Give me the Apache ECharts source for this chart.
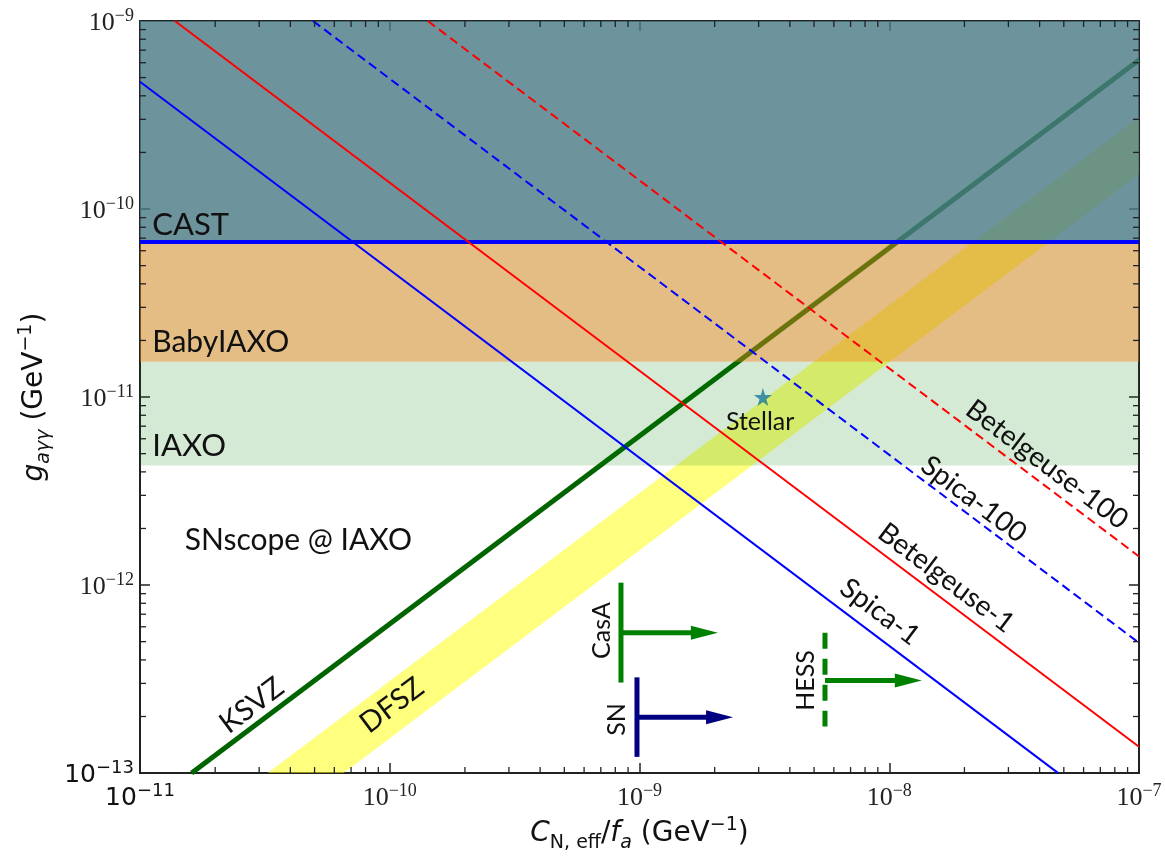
<!DOCTYPE html>
<html><head><meta charset="utf-8">
<script src="https://cdn.jsdelivr.net/npm/echarts@6/dist/echarts.min.js"></script>
<style>html,body{margin:0;padding:0;background:#fff}#c{width:1165px;height:858px}</style>
</head><body><div id="c"></div>
<script>
// ---------- axis ranges & ticks ----------
const X_MIN = 1e-11, X_MAX = 1e-7, Y_MIN = 1e-13, Y_MAX = 1e-9;
const xDecades = [-11, -10, -9, -8];
const yDecades = [-13, -12, -11, -10];
const minorMultipliers = [2, 3, 4, 5, 6, 7, 8, 9];

// ---------- sensitivity / model lines  [x, g] ----------
const spica1   = [[1e-11, 4.75e-10], [4.75e-8, 1e-13]];
const spica100 = [[4.93e-11, 1e-9], [1e-7, 4.93e-13]];
const betel1   = [[1.38e-11, 1e-9], [1e-7, 1.38e-13]];
const betel100 = [[1.42e-10, 1e-9], [1e-7, 1.42e-12]];
const ksvz     = [[1.61e-11, 1e-13], [1e-7, 6.2e-10]];
const dfszBand = [[3.24e-11, 1e-13], [1e-7, 3.09e-10], [1e-7, 1.53e-10], [6.53e-11, 1e-13]];
const castLine = [[1e-11, 6.67e-11], [1e-7, 6.67e-11]];

// ---------- horizontal sensitivity bands ----------
const bandNames = ['IAXO', 'BabyIAXO', 'CAST'];
const bandLow   = [4.33e-12, 1.54e-11, 6.67e-11];
const bandHigh  = [1.54e-11, 6.67e-11, 1e-9];

// ---------- stellar point ----------
const stellar = [[3.12e-9, 1.0e-11]];

// ---------- lower bounds with arrows ----------
const boundNames    = ['CasA', 'SN', 'HESS'];
const boundX        = [8.43e-10, 9.77e-10, 5.53e-9];
const boundYLow     = [3.03e-13, 1.22e-13, 1.77e-13];
const boundYHigh    = [1.03e-12, 3.23e-13, 5.58e-13];
const boundArrowY   = [5.58e-13, 1.98e-13, 3.11e-13];
const boundArrowEnd = [2.06e-9, 2.37e-9, 1.35e-8];

// ---------- text annotations ----------
const labelTexts = ['CAST', 'BabyIAXO', 'IAXO', 'SNscope @ IAXO', 'KSVZ', 'DFSZ', 'Spica-1', 'Betelgeuse-1', 'Spica-100', 'Betelgeuse-100', 'Stellar', 'CasA', 'SN', 'HESS'];
const labelX     = [1.12e-11, 1.12e-11, 1.12e-11, 1.51e-11, 2.8e-11, 1.02e-10, 9.18e-9, 1.69e-8, 2.18e-8, 4.28e-8, 3.04e-9, 7.08e-10, 8.13e-10, 4.65e-9];
const labelY     = [8.2e-11, 1.95e-11, 5.47e-12, 1.74e-12, 2.29e-13, 2.29e-13, 7.2e-13, 1.09e-12, 2.86e-12, 4.38e-12, 7.33e-12, 5.73e-13, 1.93e-13, 3.11e-13];
const labelSlope = [0, 0, 0, 0, 1, 1, -1, -1, -1, -1, 0, 'v', 'v', 'v'];

// ---------- styles ----------
const bandColors = ['rgba(0,128,0,0.17)', 'rgba(204,130,23,0.525)', 'rgba(75,122,133,0.81)'];
const boundColors = ['#008000', '#000080', '#008000'];
const boundDashed = [false, false, true];
const labelSizes = [31, 30, 31, 30, 29, 29, 28, 28, 28, 28, 25, 25, 25, 25];
const LABEL_FONT = 'Lato, "Open Sans", sans-serif';

const xMinor = [], yMinor = [];
xDecades.forEach(d => minorMultipliers.forEach(m => xMinor.push(m * Math.pow(10, d))));
yDecades.forEach(d => minorMultipliers.forEach(m => yMinor.push(m * Math.pow(10, d))));

const supRich = {
  b: { fontFamily: 'Liberation Serif', fontSize: 26, color: '#222', verticalAlign: 'bottom', lineHeight: 30 },
  s: { fontFamily: 'Liberation Serif', fontSize: 18, color: '#222', verticalAlign: 'bottom', lineHeight: 30, padding: [0, 0, 11, 0] },
  B: { fontFamily: 'DejaVu Sans', fontSize: 25, color: '#111', verticalAlign: 'bottom', lineHeight: 30 },
  S: { fontFamily: 'DejaVu Sans', fontSize: 18, color: '#111', verticalAlign: 'bottom', lineHeight: 30, padding: [0, 0, 11, 0] }
};
function fmt(v, firstExp) {
  const n = Math.round(Math.log10(v));
  const e = '\u2212' + Math.abs(n);
  return n === firstExp ? '{B|10}{S|' + e + '}' : '{b|10}{s|' + e + '}';
}
const titleRich = {
  i: { fontFamily: 'DejaVu Sans', fontStyle: 'italic', fontSize: 28, color: '#111', verticalAlign: 'bottom', lineHeight: 36 },
  n: { fontFamily: 'DejaVu Sans', fontSize: 28, color: '#111', verticalAlign: 'bottom', lineHeight: 36 },
  sub: { fontFamily: 'DejaVu Sans', fontSize: 19, color: '#111', verticalAlign: 'bottom', lineHeight: 36, padding: [0, 0, -5, 0] },
  subi: { fontFamily: 'DejaVu Sans', fontStyle: 'italic', fontSize: 19, color: '#111', verticalAlign: 'bottom', lineHeight: 36, padding: [0, 0, -5, 0] },
  sup: { fontFamily: 'DejaVu Sans', fontSize: 19, color: '#111', verticalAlign: 'bottom', lineHeight: 36, padding: [0, 0, 13, 0] }
};

const spine = { lineStyle: { color: '#222', width: 2 } };
const majorTick = { inside: true, length: 10, lineStyle: { color: '#222', width: 1.5 } };

function lineSeries(name, data, color, width, dashed, z) {
  return { name, type: 'line', data, symbol: 'none', silent: true, z,
    lineStyle: { color, width, type: dashed ? [9, 5] : 'solid', cap: 'butt' }, animation: false };
}

const option = {
  animation: false,
  grid: { left: 140, right: 26, top: 21, bottom: 82 },
  xAxis: [
    { type: 'log', logBase: 10, min: X_MIN, max: X_MAX, position: 'bottom',
      axisLine: spine, axisTick: majorTick, splitLine: { show: false },
      axisLabel: { formatter: v => fmt(v, -11), rich: supRich, margin: 8 },
      name: '{i|C}{sub|N, eff}{n|/}{i|f}{subi|a}{n| (GeV}{sup|\u22121}{n|)}',
      nameLocation: 'middle', nameGap: 38, nameTextStyle: { rich: titleRich } },
    { type: 'log', logBase: 10, min: X_MIN, max: X_MAX, position: 'top',
      axisLine: spine, axisTick: majorTick, splitLine: { show: false }, axisLabel: { show: false } }
  ],
  yAxis: [
    { type: 'log', logBase: 10, min: Y_MIN, max: Y_MAX, position: 'left',
      axisLine: spine, axisTick: majorTick, splitLine: { show: false },
      axisLabel: { formatter: v => fmt(v, -13), rich: supRich, margin: 6 },
      name: '{i|g}{subi|a\u03b3\u03b3}{n| (GeV}{sup|\u22121}{n|)}',
      nameLocation: 'middle', nameGap: 84, nameRotate: 90, nameTextStyle: { rich: titleRich } },
    { type: 'log', logBase: 10, min: Y_MIN, max: Y_MAX, position: 'right',
      axisLine: spine, axisTick: majorTick, splitLine: { show: false }, axisLabel: { show: false } }
  ],
  series: [
    // DFSZ band
    { type: 'custom', silent: true, z: 1, clip: true, data: [dfszBand[0]],
      renderItem: (p, api) => ({ type: 'polygon',
        shape: { points: dfszBand.map(pt => api.coord(pt)) },
        style: { fill: 'rgba(255,255,0,0.5)' } }) },
    // KSVZ
    lineSeries('KSVZ', ksvz, '#006400', 5, false, 2),
    // Stellar star
    { type: 'scatter', data: stellar, z: 3, silent: true, symbolSize: 18,
      symbol: 'path://M50,0 L61,35 L98,35 L68,57 L79,91 L50,70 L21,91 L32,57 L2,35 L39,35 Z',
      itemStyle: { color: '#1f77b4' } },
    // bands
    { type: 'custom', silent: true, z: 4, clip: true,
      data: bandNames.map((n, i) => [X_MIN, bandLow[i], bandHigh[i], i]),
      renderItem: (p, api) => {
        const i = api.value(3);
        const a = api.coord([X_MIN, api.value(2)]);
        const b = api.coord([X_MAX, api.value(1)]);
        return { type: 'rect', shape: { x: a[0], y: a[1], width: b[0] - a[0], height: b[1] - a[1] },
          style: { fill: bandColors[i] } };
      } },
    lineSeries('CAST', castLine, '#0000ff', 4, false, 5),
    lineSeries('Spica-1', spica1, '#0000ff', 2, false, 5),
    lineSeries('Spica-100', spica100, '#0000ff', 2, true, 5),
    lineSeries('Betelgeuse-1', betel1, '#ff0000', 2, false, 5),
    lineSeries('Betelgeuse-100', betel100, '#ff0000', 2, true, 5),
    // bounds with arrows
    { type: 'custom', silent: true, z: 6, clip: true,
      data: boundNames.map((n, i) => [boundX[i], boundArrowY[i], i]),
      renderItem: (p, api) => {
        const i = api.value(2);
        const col = boundColors[i];
        const top = api.coord([boundX[i], boundYHigh[i]]);
        const bot = api.coord([boundX[i], boundYLow[i]]);
        const s = api.coord([boundX[i], boundArrowY[i]]);
        const e = api.coord([boundArrowEnd[i], boundArrowY[i]]);
        const headL = 27, headW = 7;
        return { type: 'group', children: [
          { type: 'line', shape: { x1: top[0], y1: top[1], x2: bot[0], y2: bot[1] },
            style: { stroke: col, lineWidth: 5, lineDash: boundDashed[i] ? [16, 10] : null } },
          { type: 'line', shape: { x1: s[0], y1: s[1], x2: e[0] - headL + 1, y2: e[1] },
            style: { stroke: col, lineWidth: 5 } },
          { type: 'polygon', shape: { points: [[e[0], e[1]], [e[0] - headL, e[1] - headW], [e[0] - headL, e[1] + headW]] },
            style: { fill: col } }
        ] };
      } },
    // text annotations
    { type: 'custom', silent: true, z: 7, clip: false,
      data: labelTexts.map((t, i) => [labelX[i], labelY[i], i]),
      renderItem: (p, api) => {
        const i = api.value(2);
        const pt = api.coord([labelX[i], labelY[i]]);
        let rot = 0;
        const sl = labelSlope[i];
        if (sl === 'v') rot = Math.PI / 2;
        else if (sl !== 0) {
          const q = api.coord([labelX[i] * 10, labelY[i] * Math.pow(10, sl)]);
          rot = -Math.atan2(q[1] - pt[1], q[0] - pt[0]);
        }
        return { type: 'text', x: pt[0], y: pt[1], rotation: rot,
          style: { text: labelTexts[i], fill: '#111', align: i < 4 ? 'left' : 'center', verticalAlign: 'middle',
            font: labelSizes[i] + 'px ' + LABEL_FONT } };
      } },
    // minor ticks on x (bottom/top)
    { type: 'custom', silent: true, z: 10, clip: false,
      data: xMinor.map(v => [v, Y_MIN]),
      renderItem: (p, api) => {
        const cs = p.coordSys;
        const x = api.coord([api.value(0), Y_MIN])[0];
        const st = { stroke: '#222', lineWidth: 1.3 };
        return { type: 'group', children: [
          { type: 'line', shape: { x1: x, y1: cs.y + cs.height, x2: x, y2: cs.y + cs.height - 6 }, style: st },
          { type: 'line', shape: { x1: x, y1: cs.y, x2: x, y2: cs.y + 6 }, style: st }
        ] };
      } },
    // minor ticks on y (left/right)
    { type: 'custom', silent: true, z: 10, clip: false,
      data: yMinor.map(v => [X_MIN, v]),
      renderItem: (p, api) => {
        const cs = p.coordSys;
        const y = api.coord([X_MIN, api.value(1)])[1];
        const st = { stroke: '#222', lineWidth: 1.3 };
        return { type: 'group', children: [
          { type: 'line', shape: { x1: cs.x, y1: y, x2: cs.x + 6, y2: y }, style: st },
          { type: 'line', shape: { x1: cs.x + cs.width, y1: y, x2: cs.x + cs.width - 6, y2: y }, style: st }
        ] };
      } }
  ]
};
const chart = echarts.init(document.getElementById('c'));
chart.setOption(option);
</script></body></html>
